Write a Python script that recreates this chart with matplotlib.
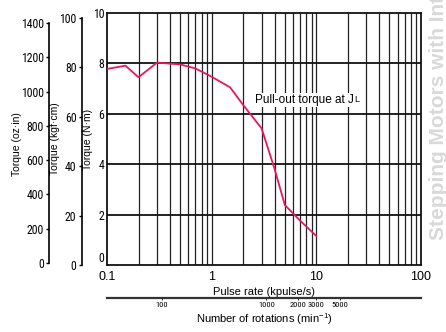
import matplotlib
matplotlib.use("Agg")
import matplotlib.pyplot as plt
from matplotlib import font_manager as fm

# ---- data ----
pulse_rate = [0.1, 0.15, 0.2, 0.3, 0.5, 0.7, 1.0, 1.5, 2.0, 3.0, 4.0, 5.0, 7.0, 10.0]
torque_nm = [7.78, 7.91, 7.45, 8.03, 7.96, 7.80, 7.47, 7.05, 6.35, 5.42, 3.80, 2.38, 1.76, 1.15]
nm_ticks = [0, 2, 4, 6, 8, 10]
kgf_ticks = [0, 20, 40, 60, 80, 100]
oz_ticks = [0, 200, 400, 600, 800, 1000, 1200, 1400]
x_ticks = [0.1, 1, 10, 100]
x_tick_labels = ["0.1", "1", "10", "100"]
rpm_ticks = [100, 1000, 2000, 3000, 5000]
rpm_labels = ["100", "1000", "2000", "3000", "5000"]
annotation = "Pull-out torque at J"
annotation_sub = "L"
watermark = "Stepping Motors with Integrated Driver"

names = {f.name for f in fm.fontManager.ttflist}
narrow_fams = [n for n in ("Liberation Sans Narrow", "Roboto Condensed", "DejaVu Sans") if n in names]
plt.rcParams["font.family"] = ["Liberation Sans", "DejaVu Sans"]
NARROW = dict(family=narrow_fams, stretch="condensed")

W, H = 446, 332
fig = plt.figure(figsize=(W / 100, H / 100), dpi=100)
L, R, T, B = 107, 421, 13, 265
ax = fig.add_axes([L / W, 1 - B / H, (R - L) / W, (B - T) / H])

ax.set_xscale("log")
ax.set_xlim(0.1, 100)
ax.set_ylim(0, 10)

# grid
for x in [m * 10 ** e for e in (-1, 0, 1) for m in range(1, 10)][1:]:
    ax.axvline(x, color="#222222", lw=0.9, zorder=1)
for y in nm_ticks[1:-1]:
    ax.axhline(y, color="#111111", lw=1.3, zorder=1)

ax.plot(pulse_rate, torque_nm, color="#e8185a", lw=1.3, zorder=3)

for s in ax.spines.values():
    s.set_linewidth(1.3)
    s.set_color("#111111")

ax.set_xticks(x_ticks)
ax.set_xticklabels(x_tick_labels, fontsize=9)
ax.xaxis.set_minor_locator(matplotlib.ticker.NullLocator())
ax.tick_params(axis="x", length=0, pad=4)
ax.set_yticks(nm_ticks)
ax.set_yticklabels([str(v) for v in nm_ticks], fontsize=8.5, **NARROW)
ax.tick_params(axis="y", length=0, pad=2)
ax.get_yticklabels()[0].set_verticalalignment("bottom")
ax.set_xlabel("Pulse rate (kpulse/s)", fontsize=8, labelpad=3)
ax.set_ylabel("Torque (N·m)", fontsize=7.5)
ax.yaxis.set_label_coords(-0.045, 0.5)

t = ax.text(2.6, 6.55, annotation, fontsize=8.5, ha="left", va="center",
            bbox=dict(facecolor="white", edgecolor="none", pad=1.0), zorder=4)
ax.annotate(annotation_sub, xy=(1, 0), xycoords=t, xytext=(0.3, 1.6),
            textcoords="offset points", fontsize=6.5, ha="left", va="bottom",
            bbox=dict(facecolor="white", edgecolor="none", pad=0.8), zorder=4)


def side_axis(ylim, ticks, top, offset_px, label, label_x, label_y):
    a = ax.twinx()
    a.set_ylim(*ylim)
    for k in ("right", "top", "bottom"):
        a.spines[k].set_visible(False)
    a.spines["left"].set_visible(True)
    a.spines["left"].set_position(("outward", offset_px * 0.72))
    a.spines["left"].set_bounds(0, top)
    a.spines["left"].set_linewidth(1.2)
    a.yaxis.tick_left()
    a.yaxis.set_label_position("left")
    a.set_yticks(ticks)
    a.set_yticklabels([str(v) for v in ticks], fontsize=8.5, **NARROW)
    a.tick_params(axis="y", length=2.5, width=1.0, pad=1.5)
    a.set_ylabel(label, fontsize=7.5)
    a.yaxis.set_label_coords(label_x, label_y)
    a.patch.set_visible(False)
    return a


side_axis((0, 10 * 10.197), kgf_ticks, 100, 25, "Torque (kgf·cm)", -0.15, 0.5)
side_axis((-11.8, 1458.8), oz_ticks, 1400, 57.7, "Torque (oz·in)", -0.271, 0.48)

# rotations axis
ax_r = fig.add_axes([L / W, 1 - 298 / H, (R - L) / W, 0.0001])
ax_r.set_xscale("log")
ax_r.set_xlim(0.1 * 300, 100 * 300)
for k in ("top", "left", "right"):
    ax_r.spines[k].set_visible(False)
ax_r.spines["bottom"].set_linewidth(1.6)
ax_r.spines["bottom"].set_color("#333333")
ax_r.set_yticks([])
ax_r.set_xticks(rpm_ticks)
ax_r.set_xticklabels(rpm_labels, fontsize=6, **NARROW)
ax_r.xaxis.set_minor_locator(matplotlib.ticker.NullLocator())
ax_r.tick_params(axis="x", length=1.5, width=0.6, pad=1.5)
ax_r.set_xlabel("Number of rotations (min$^{\\mathregular{-1}}$)", fontsize=8, labelpad=2)
ax_r.patch.set_visible(False)

fig.text(439 / W, 1 - 240 / H, watermark, rotation=90, ha="center", va="bottom",
         color="#d9d9d9", fontweight="bold", fontsize=15)

fig.savefig("out.png", dpi=100)
